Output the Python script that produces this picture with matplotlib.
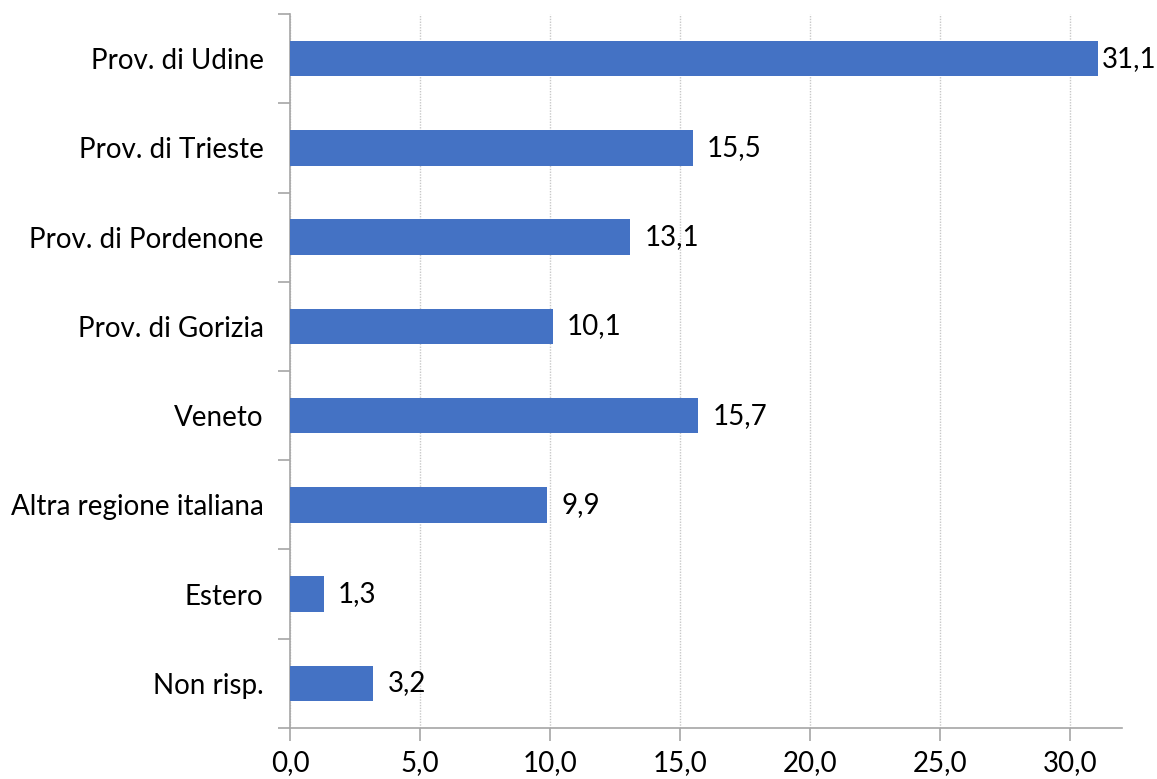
import matplotlib
matplotlib.use("Agg")
import matplotlib.pyplot as plt
import numpy as np

# data
categories = ["Prov. di Udine", "Prov. di Trieste", "Prov. di Pordenone", "Prov. di Gorizia",
              "Veneto", "Altra regione italiana", "Estero", "Non risp."]
values = [31.1, 15.5, 13.1, 10.1, 15.7, 9.9, 1.3, 3.2]
x_ticks = [0, 5, 10, 15, 20, 25, 30]

plt.rcParams['font.family'] = ['Lato', 'DejaVu Sans']
FS = 20

fig = plt.figure(figsize=(11.57, 7.79), dpi=100)
ax = fig.add_axes([0.2506, 0.0655, 0.719, 0.9165])

y = np.arange(len(categories))[::-1]
ax.barh(y, values, height=0.4, color="#4472C4", zorder=3)

# value labels, kept inside the plot on the right
for yi, v in zip(y, values):
    ax.text(min(v + 0.55, 31.25), yi, f"{v:.1f}".replace(".", ","), va="center", ha="left",
            fontsize=FS, color="#000000")

ax.set_xlim(0, 32)
ax.set_ylim(-0.5, len(categories) - 0.5)
ax.set_xticks(x_ticks)
ax.set_xticklabels([f"{t:.1f}".replace(".", ",") for t in x_ticks], fontsize=FS)

ax.set_yticks(y)
ax.set_yticklabels(categories, fontsize=FS)
ax.tick_params(axis="y", length=0, pad=19)
ax.set_yticks(np.arange(-0.5, len(categories), 1.0), minor=True)
ax.tick_params(axis="y", which="minor", length=9, color="#A6A6A6", width=1.2)
ax.tick_params(axis="x", length=9, color="#A6A6A6", width=1.2, pad=7)

ax.grid(axis="x", color="#C8C8C8", linestyle=(0, (1, 1)), linewidth=1, zorder=0)

for s in ["top", "right"]:
    ax.spines[s].set_visible(False)
ax.spines["left"].set_color("#A6A6A6")
ax.spines["bottom"].set_color("#A6A6A6")
ax.spines["left"].set_linewidth(1.2)
ax.spines["bottom"].set_linewidth(1.2)

fig.savefig("out.png", dpi=100)
